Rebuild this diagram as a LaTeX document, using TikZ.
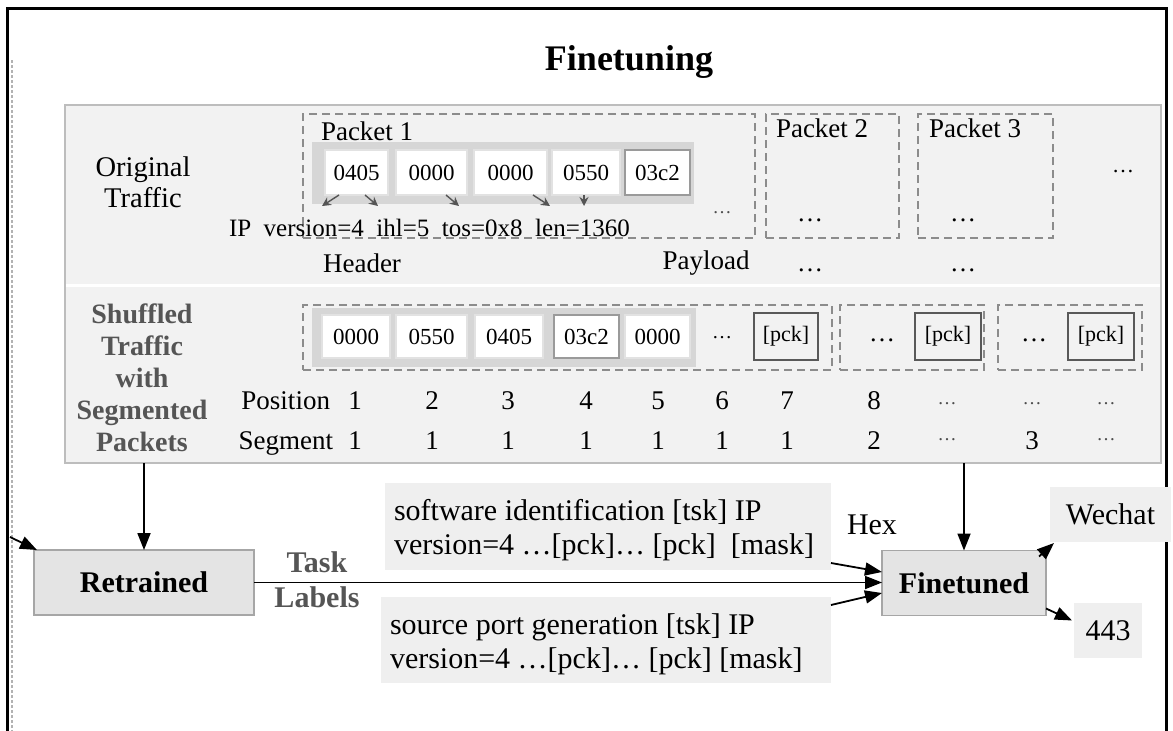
\documentclass[tikz,border=0pt]{standalone}
\usepackage{fontspec}
\setmainfont{Liberation Serif}
\usetikzlibrary{arrows.meta}
\definecolor{panelfill}{HTML}{F2F2F2}
\definecolor{panelbd}{HTML}{BDBDBD}
\definecolor{stripgray}{HTML}{D6D6D6}
\definecolor{dashgray}{HTML}{8C8C8C}
\definecolor{bytebd}{HTML}{E2E2E2}
\definecolor{bytebd2}{HTML}{9A9A9A}
\definecolor{boxfill}{HTML}{E4E4E4}
\definecolor{boxbd}{HTML}{A6A6A6}
\definecolor{tbfill}{HTML}{EFEFEF}
\definecolor{lblgray}{HTML}{555555}
\definecolor{pckbd}{HTML}{595959}
\definecolor{arrgray}{HTML}{555555}
\begin{document}
\begin{tikzpicture}[x=1pt,y=-1pt,
  every node/.style={inner sep=0pt, outer sep=0pt},
  dbox/.style={draw=dashgray, line width=1.8pt, dash pattern=on 8pt off 5pt},
  stripbox/.style={fill=stripgray, draw=none},
  bytebox/.style={fill=white, draw=bytebd, line width=1.2pt, minimum height=45pt, font=\fontsize{23}{25}\selectfont},
  bytebox2/.style={bytebox, draw=bytebd2, line width=1.6pt},
  pckbox/.style={draw=pckbd, line width=2.2pt, minimum height=47pt, font=\fontsize{22}{24}\selectfont},
  lbl/.style={font=\fontsize{27}{31}\selectfont},
  iplbl/.style={font=\fontsize{25}{28}\selectfont},
  sidelbl/.style={font=\bfseries\fontsize{28}{32}\selectfont, text=lblgray, align=center},
  dotsbig/.style={font=\fontsize{26}{28}\selectfont},
  dotssmall/.style={font=\fontsize{19}{22}\selectfont, text=black!70},
  mainbox/.style={fill=boxfill, draw=boxbd, line width=1.8pt, minimum height=65pt, font=\bfseries\fontsize{30}{34}\selectfont},
  tbox/.style={fill=tbfill, draw=none},
  tboxtext/.style={align=left, font=\fontsize{30}{34}\selectfont},
  arr/.style={line width=1.8pt, -{Triangle[length=17pt,width=13pt]}},
  sarr/.style={line width=1.4pt, arrgray, -{Stealth[length=9pt,width=9pt,inset=3pt]}}
]
\useasboundingbox (0,0) rectangle (1173,731);
\fill[white] (0,0) rectangle (1173,731);

% outer frame
\draw[line width=3pt] (7,731) -- (7,8) -- (1166,8) -- (1166,731);
\draw[gray!60, line width=2pt, dash pattern=on 3pt off 2pt] (11.5,60) -- (11.5,731);

% title
\node[font=\bfseries\fontsize{36}{40}\selectfont] (title) at (629,62) {Finetuning};

% panel
\node[draw=panelbd, fill=panelfill, line width=1.8pt, minimum width=1096pt, minimum height=358pt] (panel) at (613,284) {};
\draw[white, line width=3pt] (66,285) -- (1160,285);

% ---------- row 1 ----------
\node[font=\fontsize{28.5}{31}\selectfont, align=center] (orig) at (143,182) {Original\\Traffic};

\node[dbox, minimum width=452pt, minimum height=124pt] (p1) at (529,176) {};
\node[dbox, minimum width=133pt, minimum height=124pt] (p2) at (832.5,176) {};
\node[dbox, minimum width=135pt, minimum height=124pt] (p3) at (985.5,176) {};
\node[lbl, anchor=west] (p1lbl) at (321,131) {Packet 1};
\node[lbl, anchor=west] (p2lbl) at (776,128) {Packet 2};
\node[lbl, anchor=west] (p3lbl) at (929,128) {Packet 3};

\node[stripbox, minimum width=382pt, minimum height=62pt] (strip1) at (503,173) {};
\node[bytebox, minimum width=63pt] (b11) at (356.5,172.5) {0405};
\node[bytebox, minimum width=71pt] (b12) at (431.5,172.5) {0000};
\node[bytebox, minimum width=73pt] (b13) at (510.5,172.5) {0000};
\node[bytebox, minimum width=68pt] (b14) at (586,172.5) {0550};
\node[bytebox2, minimum width=65pt] (b15) at (657.5,172.5) {03c2};

\coordinate (a1) at (322,206);
\coordinate (a2) at (378,206);
\coordinate (a3) at (459,206);
\coordinate (a4) at (550,206);
\coordinate (a5) at (584,206);
\draw[sarr] ([xshift=14pt]b11.south west) -- (a1);
\draw[sarr] ([xshift=-23pt]b11.south east) -- (a2);
\draw[sarr] ([xshift=-21pt]b12.south east) -- (a3);
\draw[sarr] ([xshift=-14pt]b13.south east) -- (a4);
\draw[sarr] ([xshift=-2pt]b14.south) -- (a5);

\node[iplbl, anchor=west] (ipline) at (229,228) {IP\ \ version=4\ \ ihl=5\ \ tos=0x8\ \ len=1360};
\node[dotssmall] (d1) at (722,213) {…};
\node[dotsbig] (d2) at (810,220) {…};
\node[dotsbig] (d3) at (963,220) {…};
\node[font=\fontsize{22}{24}\selectfont] (d4) at (1123,172) {…};

\node[lbl] (hdr) at (362,263) {Header};
\node[lbl] (pay) at (706,263) {Payload};
\node[dotsbig] (d5) at (810,270) {…};
\node[dotsbig] (d6) at (963,270) {…};

% ---------- row 2 ----------
\node[sidelbl] (shuf) at (142,378) {Shuffled\\Traffic\\with\\Segmented\\Packets};

\node[dbox, minimum width=529pt, minimum height=65pt] (s1) at (567.5,337.5) {};
\node[dbox, minimum width=144pt, minimum height=65pt] (s2) at (912,337.5) {};
\node[dbox, minimum width=144pt, minimum height=65pt] (s3) at (1070,337.5) {};

\node[stripbox, minimum width=384pt, minimum height=59pt] (strip2) at (504,337.5) {};
\node[bytebox, minimum width=68pt, minimum height=43pt] (b21) at (356,336.5) {0000};
\node[bytebox, minimum width=71pt, minimum height=43pt] (b22) at (431.5,336.5) {0550};
\node[bytebox, minimum width=68pt, minimum height=43pt] (b23) at (509,336.5) {0405};
\node[bytebox2, minimum width=65pt, minimum height=43pt] (b24) at (586.5,336.5) {03c2};
\node[bytebox, minimum width=65pt, minimum height=43pt] (b25) at (657.5,336.5) {0000};

\node[font=\fontsize{20}{22}\selectfont] (e1) at (722,338) {…};
\node[pckbox, minimum width=64pt] (k1) at (786,336.5) {[pck]};
\node[dotsbig] (e2) at (882,340) {…};
\node[pckbox, minimum width=66pt] (k2) at (948,336.5) {[pck]};
\node[dotsbig] (e3) at (1034,340) {…};
\node[pckbox, minimum width=66pt] (k3) at (1101,336.5) {[pck]};

\node[lbl, anchor=base east] (poslbl) at (330,409) {Position};
\node[lbl, anchor=base east] (seglbl) at (333,449) {Segment};
\foreach \xx/\tt [count=\i] in {355/1,432/2,508/3,586/4,658/5,722/6,787/7,874/8}{
  \node[lbl, anchor=base] (pos\i) at (\xx,409) {\tt};
}
\foreach \xx/\tt [count=\i] in {355/1,432/1,508/1,586/1,658/1,722/1,787/1,874/2,1032/3}{
  \node[lbl, anchor=base] (seg\i) at (\xx,449) {\tt};
}
\node[dotssmall] (pd1) at (947,404) {…};
\node[dotssmall] (pd2) at (1032,404) {…};
\node[dotssmall] (pd3) at (1106,404) {…};
\node[dotssmall] (sd1) at (947,440) {…};
\node[dotssmall] (sd2) at (1106,440) {…};

% ---------- bottom ----------
\node[mainbox, minimum width=220pt] (retr) at (144,582.5) {Retrained};
\node[mainbox, minimum width=164pt] (fin) at (964,583) {Finetuned};

\node[font=\bfseries\fontsize{30}{35}\selectfont, text=lblgray, align=center] (task) at (317,580) {Task\\Labels};

\node[tbox, minimum width=446pt, minimum height=87pt] (tb1) at (608,526.5) {};
\node[tboxtext, anchor=west] (tb1t) at ([xshift=9pt,yshift=-4pt]tb1.west) {software identification [tsk] IP\\version=4 …[pck]… [pck]\ \ [mask]};
\node[tbox, minimum width=450pt, minimum height=86pt] (tb2) at (606,640) {};
\node[tboxtext, anchor=west] (tb2t) at ([xshift=9pt,yshift=-4pt]tb2.west) {source port generation [tsk] IP\\version=4 …[pck]… [pck] [mask]};

\node[font=\fontsize{30}{34}\selectfont] (hex) at (872,525) {Hex};

\node[fill=tbfill, minimum width=121pt, minimum height=55pt, font=\fontsize{30}{34}\selectfont] (wechat) at (1110.5,514.5) {Wechat};
\node[fill=tbfill, minimum width=68pt, minimum height=55pt, font=\fontsize{30}{34}\selectfont] (n443) at (1108,630.5) {443};

% connectors
\coordinate (lin) at (10,537);
\draw[arr] (lin) -- ([xshift=3pt]retr.north west);
\draw[arr] (panel.south -| retr.north) -- (retr.north);
\draw[arr] (panel.south -| fin.north) -- (fin.north);
\draw[arr] (retr.east) -- (retr.east -| fin.west);
\draw[arr] ([yshift=7pt]tb1.south east) -- ([yshift=11pt]fin.west);
\draw[arr] ([yshift=-8pt]tb2.north east) -- ([yshift=-10pt]fin.west);
\draw[arr] ([xshift=-7pt,yshift=-6pt]fin.north east) -- ([xshift=4pt,yshift=-1pt]wechat.south west);
\draw[arr] ([yshift=7pt]fin.south east) -- ([xshift=-2pt,yshift=10pt]n443.west);
\end{tikzpicture}
\end{document}
